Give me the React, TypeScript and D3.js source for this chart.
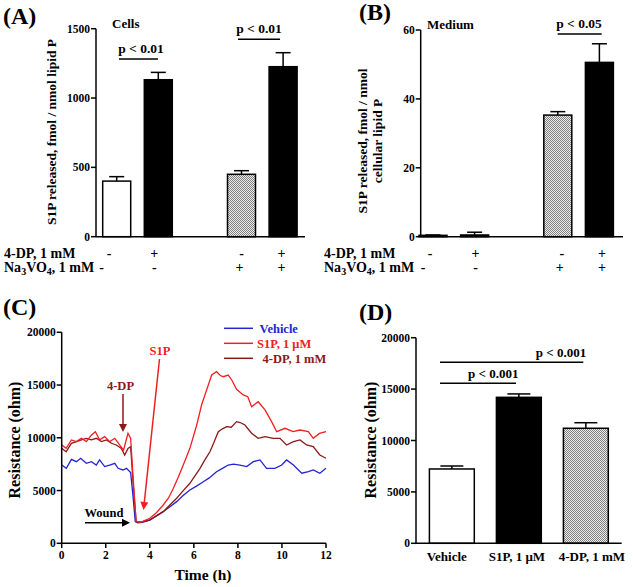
import React from "react";
import * as d3 from "d3";

// ---------- Data ----------
const abConds = ["c1", "c2", "c3", "c4"];
const abSlots = [0, 1, 3, 4];
const abFills = ["white", "black", "hatch", "black"];
const row1Signs = ["-", "+", "-", "+"];
const row2Signs = ["-", "-", "+", "+"];

const cellsMean = [401, 1132, 450, 1226];
const cellsErr = [433, 1185, 476, 1327];
const cellsTicks = [0, 500, 1000, 1500];

const mediumMean = [0.4, 0.5, 35.3, 50.6];
const mediumErr = [0.5, 1.3, 36.3, 56.0];
const mediumTicks = [0, 20, 40, 60];

const vehicle: [number, number][] = [
  [0, 7420], [0.21, 7110], [0.44, 7960], [0.67, 7740], [0.86, 8060], [1.12, 7580], [1.35, 7740],
  [1.57, 7420], [1.72, 7900], [1.95, 7270], [2.18, 7420], [2.41, 7580], [2.56, 7110], [2.78, 6950],
  [2.94, 7110], [3.13, 6700], [3.24, 4420], [3.34, 2050], [3.45, 1950], [3.7, 2000], [4.0, 2200],
  [4.3, 2600], [4.61, 3000], [4.9, 3450], [5.22, 3950], [5.5, 4500], [5.82, 5050], [6.1, 5400],
  [6.43, 5840], [6.7, 6200], [7.03, 6790], [7.3, 7100], [7.56, 7420], [7.8, 7500], [8.09, 7420],
  [8.4, 7270], [8.7, 7740], [9.0, 7900], [9.3, 7110], [9.68, 7110], [9.99, 7420], [10.21, 7900],
  [10.52, 7420], [10.9, 6640], [11.2, 6790], [11.42, 6950], [11.72, 6640], [12.0, 7110],
];
const s1p: [number, number][] = [
  [0, 9320], [0.2, 9000], [0.44, 9800], [0.67, 9640], [0.89, 9950], [1.12, 9640], [1.35, 10270],
  [1.53, 10580], [1.72, 9800], [1.95, 10110], [2.18, 9640], [2.41, 9950], [2.63, 9320], [2.81, 8840],
  [3.01, 10430], [3.13, 9950], [3.25, 6000], [3.38, 2050], [3.6, 2000], [4.0, 2370], [4.3, 2900],
  [4.61, 3630], [4.85, 4300], [5.07, 5210], [5.3, 6300], [5.52, 7420], [5.82, 9000], [6.13, 11210],
  [6.35, 13110], [6.58, 14530], [6.81, 15950], [7.03, 16270], [7.2, 15900], [7.34, 15790],
  [7.56, 15950], [7.72, 15480], [7.94, 14600], [8.24, 14060], [8.45, 13900], [8.62, 12950],
  [8.92, 13420], [9.23, 12640], [9.53, 11530], [9.76, 10580], [10.14, 10900], [10.5, 10580],
  [10.82, 10740], [11.2, 10580], [11.42, 9950], [11.7, 10420], [12.0, 10580],
];
const fourDP: [number, number][] = [
  [0, 9000], [0.2, 8680], [0.44, 9480], [0.67, 9640], [0.89, 9800], [1.12, 9950], [1.35, 9800],
  [1.57, 9950], [1.8, 9640], [2.03, 9800], [2.26, 9480], [2.48, 9320], [2.71, 9000], [2.86, 8370],
  [3.01, 9000], [3.13, 9160], [3.25, 5500], [3.38, 2050], [3.6, 2000], [4.0, 2210], [4.3, 2600],
  [4.61, 3000], [4.9, 3600], [5.22, 4270], [5.5, 4950], [5.82, 5690], [6.05, 6400], [6.28, 7110],
  [6.5, 7900], [6.73, 8680], [6.9, 9500], [7.11, 10580], [7.3, 10850], [7.49, 11050], [7.7, 11000],
  [7.94, 11530], [8.1, 11450], [8.32, 11210], [8.62, 10430], [8.92, 9950], [9.23, 10110],
  [9.61, 9950], [9.91, 9950], [10.21, 9320], [10.52, 9640], [10.82, 9800], [11.12, 9320],
  [11.42, 9160], [11.72, 8370], [12.0, 8060],
];
const timeTicks = [0, 2, 4, 6, 8, 10, 12];
const resTicks = [0, 5000, 10000, 15000, 20000];

const dCats = ["Vehicle", "S1P, 1 μM", "4-DP, 1 mM"];
const dMean = [7230, 14200, 11190];
const dErr = [7520, 14530, 11730];
const dFills = ["white", "black", "hatch"];

const FONT = "'Liberation Serif', 'Times New Roman', serif";
const BLUE = "#2424d6";
const RED = "#f02020";
const DRED = "#8c1818";

const fillOf = (f: string) => (f === "hatch" ? "url(#hatch)" : f);

function YAxis({ x, scale, ticks, fs = 11.5 }: any) {
  const [r0, r1] = scale.range();
  return (
    <g>
      <line x1={x} x2={x} y1={r0} y2={r1} stroke="black" strokeWidth={1.5} />
      {ticks.map((t: number) => (
        <g key={t}>
          <line x1={x - 5} x2={x} y1={scale(t)} y2={scale(t)} stroke="black" strokeWidth={1.5} />
          <text x={x - 6} y={scale(t)} dy="0.35em" textAnchor="end" fontSize={fs} fontWeight="bold">
            {t}
          </text>
        </g>
      ))}
    </g>
  );
}

function ErrBar({ cx, y0, y1, w }: any) {
  return (
    <g stroke="black" strokeWidth={1.5}>
      <line x1={cx} x2={cx} y1={y0} y2={y1} />
      <line x1={cx - w / 2} x2={cx + w / 2} y1={y1} y2={y1} />
    </g>
  );
}

function Arrow({ x1, y1, x2, y2, color, head = 8, hw = 4 }: any) {
  const ang = Math.atan2(y2 - y1, x2 - x1);
  const bx = x2 - head * Math.cos(ang);
  const by = y2 - head * Math.sin(ang);
  const px = -Math.sin(ang) * hw;
  const py = Math.cos(ang) * hw;
  return (
    <g>
      <line x1={x1} y1={y1} x2={bx} y2={by} stroke={color} strokeWidth={1.5} />
      <polygon points={`${x2},${y2} ${bx + px},${by + py} ${bx - px},${by - py}`} fill={color} />
    </g>
  );
}

function SignRows({ xs, xs2, y1, y2, labelX }: any) {
  return (
    <g fontSize={14} fontWeight="bold">
      <text x={labelX} y={y1}>4-DP, 1 mM</text>
      <text x={labelX} y={y2}>
        Na<tspan fontSize={10} dy={3}>3</tspan>
        <tspan dy={-3}>VO</tspan>
        <tspan fontSize={10} dy={3}>4</tspan>
        <tspan dy={-3}>, 1 mM</tspan>
      </text>
      {row1Signs.map((s, i) => (
        <text key={"a" + i} x={xs[i]} y={y1} textAnchor="middle">{s}</text>
      ))}
      {row2Signs.map((s, i) => (
        <text key={"b" + i} x={xs2[i]} y={y2} textAnchor="middle">{s}</text>
      ))}
    </g>
  );
}

function PanelAB({ axisX, axisEnd, firstC, yScale, ticks, mean, err, labelX, off1, off2 }: any) {
  const xPos = d3.scaleLinear().domain([0, 4]).range([firstC, firstC + 166.4]);
  const bw = 28;
  const y0 = yScale(0);
  const centers = abSlots.map((s) => xPos(s));
  return (
    <g>
      {abConds.map((c, i) => (
        <g key={c}>
          <ErrBar cx={centers[i]} y0={yScale(mean[i])} y1={yScale(err[i])} w={15} />
          <rect
            x={centers[i] - bw / 2}
            y={yScale(mean[i])}
            width={bw}
            height={Math.max(0.5, y0 - yScale(mean[i]))}
            fill={fillOf(abFills[i])}
            stroke="black"
            strokeWidth={1.5}
          />
        </g>
      ))}
      <YAxis x={axisX} scale={yScale} ticks={ticks} />
      <line x1={axisX} x2={axisEnd} y1={y0} y2={y0} stroke="black" strokeWidth={1.5} />
      <SignRows
        xs={centers.map((c, i) => c + off1[i])}
        xs2={centers.map((c, i) => c + off2[i])}
        y1={257.5}
        y2={271.5}
        labelX={labelX}
      />
    </g>
  );
}

export default function App() {
  // Panel A
  const yA = d3.scaleLinear().domain([0, 1500]).range([236.7, 28.7]);
  // Panel B
  const yB = d3.scaleLinear().domain([0, 60]).range([236.7, 30]);
  // Panel C
  const xC = d3.scaleLinear().domain([0, 12]).range([61.7, 326]);
  const yC = d3.scaleLinear().domain([0, 20000]).range([543.3, 332.3]);
  const lineC = d3
    .line<[number, number]>()
    .x((d) => xC(d[0]))
    .y((d) => yC(d[1]));
  // Panel D
  const yD = d3.scaleLinear().domain([0, 20000]).range([543.3, 337.7]);
  const xD = d3.scaleBand().domain(dCats).range([416, 621.7]).paddingInner(0.33).paddingOuter(0.2);

  return (
    <svg
      width={633}
      height={587}
      style={{ position: "absolute", left: 0, top: 0, background: "white" }}
      fontFamily={FONT}
    >
      <defs>
        <pattern id="hatch" width={2} height={2} patternUnits="userSpaceOnUse">
          <rect width={2} height={2} fill="#ececec" />
          <rect x={0} y={0} width={1} height={1} fill="#808080" />
          <rect x={1} y={1} width={1} height={1} fill="#808080" />
        </pattern>
      </defs>
      <rect width={633} height={587} fill="white" />

      {/* ---------------- Panel A ---------------- */}
      <text x={3} y={24} fontSize={24} fontWeight="bold">(A)</text>
      <text x={112} y={28} fontSize={13} fontWeight="bold">Cells</text>
      <text
        transform="translate(56,132) rotate(-90)"
        textAnchor="middle"
        fontSize={13.5}
        fontWeight="bold"
      >
        S1P released, fmol / nmol lipid P
      </text>
      <PanelAB
        axisX={96} axisEnd={305} firstC={116.7} yScale={yA} ticks={cellsTicks}
        mean={cellsMean} err={cellsErr} labelX={4}
        off1={[-7.5, -4, 0, -1.5]} off2={[-15, -4, -2, -1.5]}
      />
      <g fontSize={13.5} fontWeight="bold" textAnchor="middle">
        <text x={141} y={53}>p &lt; 0.01</text>
        <text x={259} y={33}>p &lt; 0.01</text>
      </g>
      <line x1={119} x2={158} y1={59} y2={59} stroke="black" strokeWidth={1.5} />
      <line x1={238} x2={280} y1={39.3} y2={39.3} stroke="black" strokeWidth={1.5} />

      {/* ---------------- Panel B ---------------- */}
      <text x={359} y={20} fontSize={24} fontWeight="bold">(B)</text>
      <text x={427} y={29} fontSize={13} fontWeight="bold">Medium</text>
      <g fontSize={13.5} fontWeight="bold" textAnchor="middle">
        <text transform="translate(367,141) rotate(-90)">S1P released, fmol / nmol</text>
        <text transform="translate(382,141) rotate(-90)">cellular lipid P</text>
      </g>
      <PanelAB
        axisX={420.7} axisEnd={623} firstC={433} yScale={yB} ticks={mediumTicks}
        mean={mediumMean} err={mediumErr} labelX={324}
        off1={[-3, 1, 4, 2.5]} off2={[-10, 1, 2, 2.5]}
      />
      <text x={579} y={28} fontSize={13.5} fontWeight="bold" textAnchor="middle">p &lt; 0.05</text>
      <line x1={557.7} x2={601.7} y1={34} y2={34} stroke="black" strokeWidth={1.5} />

      {/* ---------------- Panel C ---------------- */}
      <text x={3} y={315} fontSize={24} fontWeight="bold">(C)</text>
      <path d={lineC(vehicle) || ""} fill="none" stroke={BLUE} strokeWidth={1.3} />
      <path d={lineC(fourDP) || ""} fill="none" stroke={DRED} strokeWidth={1.3} />
      <path d={lineC(s1p) || ""} fill="none" stroke={RED} strokeWidth={1.3} />
      <YAxis x={61.7} scale={yC} ticks={resTicks} />
      <line x1={61.7} x2={326} y1={543.3} y2={543.3} stroke="black" strokeWidth={1.5} />
      {timeTicks.map((t) => (
        <g key={t}>
          <line x1={xC(t)} x2={xC(t)} y1={543.3} y2={548} stroke="black" strokeWidth={1.5} />
          <text x={xC(t)} y={559} textAnchor="middle" fontSize={11.5} fontWeight="bold">{t}</text>
        </g>
      ))}
      <text x={203} y={580} textAnchor="middle" fontSize={15.5} fontWeight="bold">Time (h)</text>
      <text transform="translate(20,440) rotate(-90)" textAnchor="middle" fontSize={16} fontWeight="bold">
        Resistance (ohm)
      </text>
      {/* legend */}
      <g fontSize={12.5} fontWeight="bold">
        <line x1={224} x2={253} y1={328.3} y2={328.3} stroke={BLUE} strokeWidth={1.5} />
        <text x={259.5} y={332.5} fill={BLUE}>Vehicle</text>
        <line x1={224} x2={253} y1={343.3} y2={343.3} stroke={RED} strokeWidth={1.5} />
        <text x={257} y={347.5} fill={RED}>S1P, 1 μM</text>
        <line x1={224} x2={253} y1={358.3} y2={358.3} stroke={DRED} strokeWidth={1.5} />
        <text x={262.5} y={362.5} fill={DRED}>4-DP, 1 mM</text>
      </g>
      {/* annotations */}
      <text x={120.5} y={390} textAnchor="middle" fontSize={12.5} fontWeight="bold" fill={DRED}>4-DP</text>
      <Arrow x1={123} y1={394} x2={123} y2={432} color={DRED} />
      <text x={160} y={355} textAnchor="middle" fontSize={12.5} fontWeight="bold" fill={RED}>S1P</text>
      <Arrow x1={159.5} y1={359} x2={143.5} y2={510} color={RED} />
      <text x={104} y={516.5} textAnchor="middle" fontSize={12.5} fontWeight="bold">Wound</text>
      <Arrow x1={85} y1={522.7} x2={130} y2={522.7} color="black" />

      {/* ---------------- Panel D ---------------- */}
      <text x={359} y={320} fontSize={24} fontWeight="bold">(D)</text>
      {dCats.map((c, i) => {
        const x0 = xD(c) as number;
        const w = xD.bandwidth();
        return (
          <g key={c}>
            <ErrBar cx={x0 + w / 2} y0={yD(dMean[i])} y1={yD(dErr[i])} w={23} />
            <rect
              x={x0}
              y={yD(dMean[i])}
              width={w}
              height={yD(0) - yD(dMean[i])}
              fill={fillOf(dFills[i])}
              stroke="black"
              strokeWidth={1.5}
            />
            <text x={x0 + w / 2 + [-5, -2, 6][i]} y={561} textAnchor="middle" fontSize={13} fontWeight="bold">
              {c}
            </text>
          </g>
        );
      })}
      <YAxis x={416} scale={yD} ticks={resTicks} />
      <line x1={416} x2={621.7} y1={543.3} y2={543.3} stroke="black" strokeWidth={1.5} />
      <text transform="translate(376,440) rotate(-90)" textAnchor="middle" fontSize={16} fontWeight="bold">
        Resistance (ohm)
      </text>
      <g fontSize={13} fontWeight="bold" textAnchor="middle">
        <text x={493.3} y={377.5}>p &lt; 0.001</text>
        <text x={561} y={357}>p &lt; 0.001</text>
      </g>
      <line x1={440} x2={516} y1={383.3} y2={383.3} stroke="black" strokeWidth={1.5} />
      <line x1={440} x2={583.3} y1={362.3} y2={362.3} stroke="black" strokeWidth={1.5} />
    </svg>
  );
}
